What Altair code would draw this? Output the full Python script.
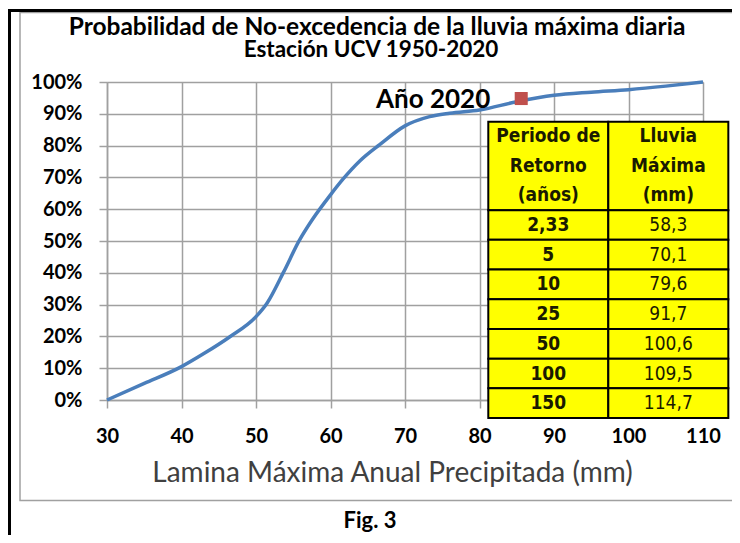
import altair as alt
import pandas as pd

# ---- data ----
curve_x = [30, 35, 40, 43, 46.5, 50, 51.5, 53.7, 55.8, 57.5, 60, 61.7, 64, 66.6, 70, 73.3, 76, 80,
           85, 90, 95, 100, 105, 110]
curve_y = [0.0, 0.052, 0.105, 0.146, 0.199, 0.262, 0.305, 0.402, 0.501, 0.565, 0.645, 0.695, 0.753, 0.803,
           0.862, 0.891, 0.902, 0.912, 0.938, 0.958, 0.968, 0.976, 0.987, 1.0]
marker_x = [85.6]
marker_y = [0.948]
marker_label = ["Año 2020"]

header_left = ["Periodo de", "Retorno", "(años)"]
header_right = ["Lluvia", "Máxima", "(mm)"]
periodos = ["2,33", "5", "10", "25", "50", "100", "150"]
lluvia = ["58,3", "70,1", "79,6", "91,7", "100,6", "109,5", "114,7"]

title_lines = ["Probabilidad  de No-excedencia de la lluvia máxima diaria", "Estación UCV 1950-2020"]
x_title = "Lamina Máxima Anual Precipitada (mm)"
fig_label = ["Fig. 3"]
x_ticks = [30, 40, 50, 60, 70, 80, 90, 100, 110]
y_ticks = [0, 0.1, 0.2, 0.3, 0.4, 0.5, 0.6, 0.7, 0.8, 0.9, 1.0]

# ---- layout ----
W, H = 596, 318
CAL = "Lato"
NARROW = "'DejaVu Sans Condensed', 'Liberation Sans'"
GRID = "#A0A0A0"

TX0, TXM, TX1 = 81.18, 97.29, 113.4      # table column edges (data units)
TY0, TYH, ROWH = 0.875, 0.597, 0.0934    # table top, header bottom, row height

xs = alt.Scale(domain=[30, 110], nice=False, zero=False)
ys = alt.Scale(domain=[0, 1], nice=False, zero=False)

curve_df = pd.DataFrame({"x": curve_x, "y": curve_y})
marker_df = pd.DataFrame({"x": marker_x, "y": marker_y, "t": marker_label})

# table cells
cells = []
cells.append(dict(x=TX0, x2=TXM, y=TY0, y2=TYH))
cells.append(dict(x=TXM, x2=TX1, y=TY0, y2=TYH))
for i in range(len(periodos)):
    top = TYH - i * ROWH
    cells.append(dict(x=TX0, x2=TXM, y=top, y2=top - ROWH))
    cells.append(dict(x=TXM, x2=TX1, y=top, y2=top - ROWH))
cells_df = pd.DataFrame(cells)

cx_l, cx_r = (TX0 + TXM) / 2, (TXM + TX1) / 2
bold_txt, reg_txt = [], []
hstep = (TY0 - TYH) / 3
for j, (a, b) in enumerate(zip(header_left, header_right)):
    yc = TY0 - (j + 0.5) * hstep
    bold_txt.append(dict(x=cx_l, y=yc, t=a))
    bold_txt.append(dict(x=cx_r, y=yc, t=b))
for i, (a, b) in enumerate(zip(periodos, lluvia)):
    yc = TYH - (i + 0.5) * ROWH
    bold_txt.append(dict(x=cx_l, y=yc, t=a))
    reg_txt.append(dict(x=cx_r, y=yc, t=b))
bold_df = pd.DataFrame(bold_txt)
reg_df = pd.DataFrame(reg_txt)

one = pd.DataFrame({"d": [0]})

x_axis = alt.Axis(values=x_ticks, grid=True, gridColor=GRID, gridWidth=1.5, domainColor=GRID, domainWidth=1.5,
                  tickColor=GRID, tickWidth=1.5, tickSize=8, labelFont=CAL, labelFontSize=20,
                  labelFontWeight="bold", labelColor="black", labelPadding=18, labelFlush=False,
                  labelOverlap=False,
                  title=x_title, titleFont=CAL, titleFontSize=28, titleFontWeight="normal",
                  titleColor="#404040", titleX=285, titleY=73, titleAlign="center", titleBaseline="middle")
y_axis = alt.Axis(values=y_ticks, format=".0%", grid=True, gridColor=GRID, gridWidth=1.5, domainColor=GRID,
                  domainWidth=1.5, tickColor=GRID, tickWidth=1.5, tickSize=8, labelFont=CAL, labelFontSize=20,
                  labelFontWeight="bold", labelColor="black", labelPadding=17, labelFlush=False,
                  labelOverlap=False, title=None)


def X():
    return alt.X("x:Q", scale=xs, axis=x_axis, title=x_title)


def Y():
    return alt.Y("y:Q", scale=ys, axis=y_axis, title=None)


# decorative frames
gray_frame = alt.Chart(one).mark_rect(fill=None, stroke=GRID, strokeWidth=1.5).encode(
    x=alt.value(-87), x2=alt.value(700), y=alt.value(-69.5), y2=alt.value(418.5))
black_top = alt.Chart(one).mark_rule(color="black", strokeWidth=3).encode(
    x=alt.value(-110), x2=alt.value(700), y=alt.value(-71.5))
black_left = alt.Chart(one).mark_rule(color="black", strokeWidth=3).encode(
    x=alt.value(-97.5), y=alt.value(-73), y2=alt.value(470))

title1 = alt.Chart(pd.DataFrame({"t": [title_lines[0]]})).mark_text(
    font=CAL, fontSize=24.5, fontWeight="bold", color="black", align="center", baseline="middle").encode(
    x=alt.value(270), y=alt.value(-54), text="t:N")
title2 = alt.Chart(pd.DataFrame({"t": [title_lines[1]]})).mark_text(
    font=CAL, fontSize=22.5, fontWeight="bold", color="black", align="center", baseline="middle").encode(
    x=alt.value(264), y=alt.value(-32), text="t:N")

line = alt.Chart(curve_df).mark_line(color="#4A7EBB", strokeWidth=3.5, interpolate="monotone").encode(
    x=X(), y=Y())

marker = alt.Chart(marker_df).mark_square(color="#C0504D", size=170, opacity=1).encode(x=X(), y=Y())

marker_text = alt.Chart(marker_df).mark_text(font=CAL, fontSize=26, fontWeight="bold", align="right",
                                             baseline="middle", color="black", dx=-31, dy=1).encode(
    x=X(), y=Y(), text="t:N")

table = alt.Chart(cells_df).mark_rect(fill="#FFFF00", stroke="black", strokeWidth=2, clip=False).encode(
    x=X(), x2="x2:Q", y=Y(), y2="y2:Q")

tb = alt.Chart(bold_df).mark_text(font=NARROW, fontSize=19, fontWeight="bold", color="#1a1a00",
                                  baseline="middle", align="center").encode(x=X(), y=Y(), text="t:N")
tr = alt.Chart(reg_df).mark_text(font=NARROW, fontSize=19, fontWeight="normal", color="#1a1a00",
                                 baseline="middle", align="center").encode(x=X(), y=Y(), text="t:N")

fig = alt.Chart(pd.DataFrame({"t": fig_label})).mark_text(font=CAL, fontSize=22, fontWeight="bold",
                                                          color="black", align="center", baseline="middle").encode(
    x=alt.value(263), y=alt.value(439), text="t:N")

chart = alt.layer(gray_frame, black_top, black_left, title1, title2, line, marker, marker_text,
                  table, tb, tr, fig).properties(
    width=W, height=H,
    autosize=alt.AutoSizeParams(type="none"),
    padding={"left": 99, "top": 74, "right": 29, "bottom": 135},
).configure_view(stroke=None).configure(background="white")

chart.save("out.html", embed_options={"renderer": "svg", "actions": False})
